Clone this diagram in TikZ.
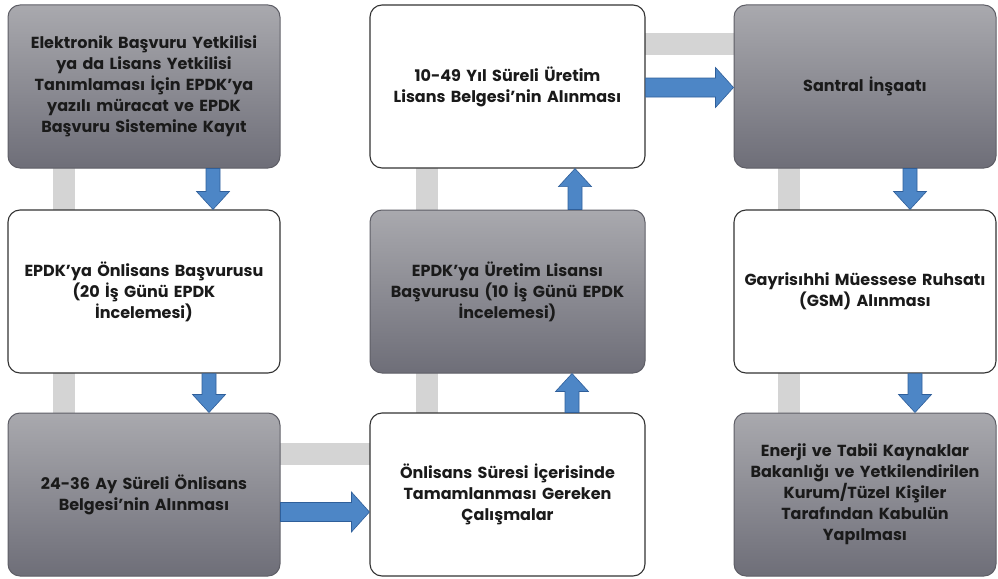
\documentclass[tikz,border=0pt]{standalone}
\usepackage{fontspec}
\setmainfont{Poppins}
\usetikzlibrary{calc,backgrounds}
\definecolor{boxtop}{HTML}{A9A9AE}
\definecolor{boxbot}{HTML}{6E6E78}
\definecolor{boxline}{HTML}{5E5E66}
\definecolor{barcol}{HTML}{D4D4D4}
\definecolor{arrfill}{HTML}{4D86C6}
\definecolor{arrline}{HTML}{2F5F9A}
\definecolor{txt}{HTML}{1A1A1A}
\tikzset{
  base/.style={rounded corners=12pt, minimum width=272pt, minimum height=163pt,
    text width=268pt, align=center, inner sep=0pt, text=txt,
    font=\fontsize{16}{21}\selectfont\bfseries},
  graybox/.style={base, draw=boxline, line width=1pt, top color=boxtop, bottom color=boxbot},
  whitebox/.style={base, draw=black!80, line width=1.1pt, fill=white},
  bar/.style={draw=barcol, line width=22pt},
  blk/.style={fill=arrfill, draw=arrline, line width=0.6pt, line join=miter}
}
\newcommand\blockarrow[5]{%
  \path (#1) coordinate (ba-s) (#2) coordinate (ba-e);
  \path ($(ba-e)!#5!(ba-s)$) coordinate (ba-h);
  \draw[blk] ($(ba-s)!#3!90:(ba-e)$) -- ($(ba-h)!#3!90:(ba-e)$) -- ($(ba-h)!#4!90:(ba-e)$)
    -- (ba-e) -- ($(ba-h)!#4!-90:(ba-e)$) -- ($(ba-h)!#3!-90:(ba-e)$)
    -- ($(ba-s)!#3!-90:(ba-e)$) -- cycle;}
\begin{document}
\begin{tikzpicture}[x=1pt,y=-1pt]
\useasboundingbox (0,0) rectangle (998,578);
% column 1
\node[graybox] (A) at (144,86.5) {Elektronik Başvuru Yetkilisi\\ya da Lisans Yetkilisi\\Tanımlaması İçin EPDK’ya\\yazılı müracat ve EPDK\\Başvuru Sistemine Kayıt};
\node[whitebox] (B) at (144,291.5) {EPDK’ya Önlisans Başvurusu\\(20 İş Günü EPDK\\İncelemesi)};
\node[graybox] (C) at (144,494.5) {24-36 Ay Süreli Önlisans\\Belgesi’nin Alınması};
% column 2
\node[whitebox, minimum width=275pt] (D) at (507.5,86.5) {10-49 Yıl Süreli Üretim\\Lisans Belgesi’nin Alınması};
\node[graybox, minimum width=275pt] (E) at (507.5,291.5) {EPDK’ya Üretim Lisansı\\Başvurusu (10 İş Günü EPDK\\İncelemesi)};
\node[whitebox, minimum width=275pt] (F) at (507.5,494.5) {Önlisans Süresi İçerisinde\\Tamamlanması Gereken\\Çalışmalar};
% column 3
\node[graybox, minimum width=262pt, text width=262pt] (G) at (865,86.5) {Santral İnşaatı};
\node[whitebox, minimum width=262pt, text width=262pt] (H) at (865,291.5) {Gayrisıhhi Müessese Ruhsatı\\(GSM) Alınması};
\node[graybox, minimum width=262pt, text width=262pt] (I) at (865,494.5) {Enerji ve Tabii Kaynaklar\\Bakanlığı ve Yetkilendirilen\\Kurum/Tüzel Kişiler\\Tarafından Kabulün\\Yapılması};
% background bars
\begin{scope}[on background layer]
  \draw[bar] ([xshift=-80pt]A.center) -- ([xshift=-80pt]C.center);
  \draw[bar] ([xshift=-81pt]D.center) -- ([xshift=-81pt]F.center);
  \draw[bar] ([xshift=-76.5pt]G.center) -- ([xshift=-76.5pt]I.center);
  \draw[bar] ([yshift=41pt]C.center) -- ([yshift=41pt]F.center);
  \draw[bar] ([yshift=42.5pt]D.center) -- ([yshift=42.5pt]G.center);
\end{scope}
% blue arrows
\blockarrow{[xshift=69pt]A.south}{[xshift=69pt]B.north}{7pt}{16.5pt}{18pt}
\blockarrow{[xshift=65pt]B.south}{[xshift=65pt]C.north}{7pt}{16.5pt}{18pt}
\blockarrow{[xshift=64.5pt]F.north}{[xshift=64.5pt]E.south}{7pt}{16.5pt}{18pt}
\blockarrow{[xshift=67.5pt]E.north}{[xshift=67.5pt]D.south}{7pt}{16.5pt}{18pt}
\blockarrow{[xshift=45pt]G.south}{[xshift=45pt]H.north}{7pt}{16.5pt}{18pt}
\blockarrow{[xshift=50pt]H.south}{[xshift=50pt]I.north}{7pt}{16.5pt}{18pt}
\blockarrow{[yshift=-17.5pt]C.east}{[yshift=-17.5pt]C.east -| F.west}{9.5pt}{20pt}{18pt}
\blockarrow{[yshift=-1pt]D.east}{[yshift=-1pt]D.east -| G.west}{9.5pt}{20pt}{18pt}
\end{tikzpicture}
\end{document}
